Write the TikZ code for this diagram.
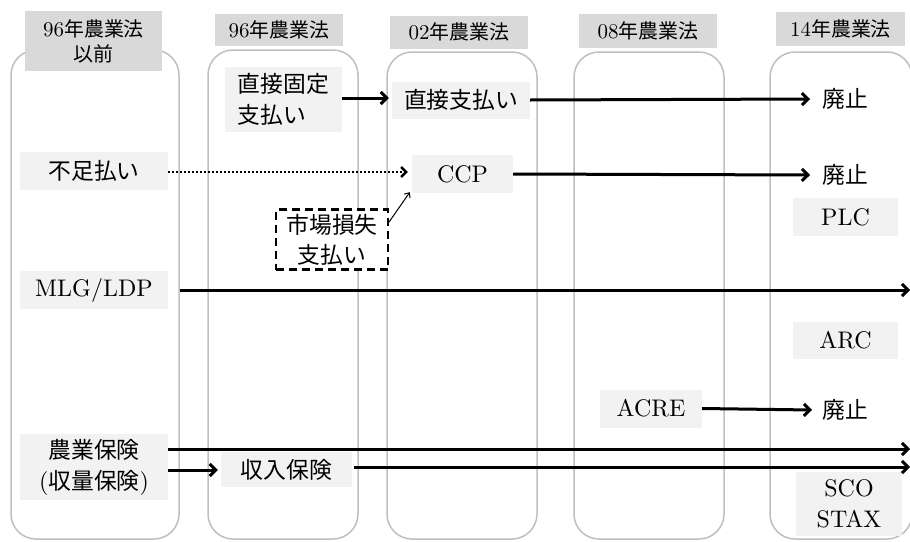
\documentclass[tikz,border=0pt]{standalone}
\usepackage{fontspec}
\setmainfont{lmroman10-regular}[Extension=.otf]
\newfontfamily\jp[Scale=0.95]{Noto Sans CJK JP}
\usetikzlibrary{arrows.meta,calc}
\definecolor{colline}{HTML}{BFBFBF}
\definecolor{headfill}{HTML}{D9D9D9}
\definecolor{itemfill}{HTML}{F2F2F2}
\tikzset{
  column/.style={draw=colline, line width=1.5pt, rounded corners=25pt},
  header/.style={fill=headfill, inner sep=0pt, align=center, font=\fontsize{21}{25}\selectfont},
  item/.style={fill=itemfill, inner sep=0pt, align=center, font=\fontsize{24}{31}\selectfont},
  plain/.style={inner sep=0pt, font=\fontsize{24}{31}\selectfont},
  thick arrow/.style={line width=3pt, -{Straight Barb[length=6pt,width=12pt,line width=3pt]}},
  dot arrow/.style={line width=2.8pt, dash pattern=on 2pt off 2pt, -{Straight Barb[length=5pt,width=10pt,line width=2.4pt]}},
  thin arrow/.style={line width=1pt, -{Straight Barb[length=4pt,width=7pt,line width=1pt]}},
  dashbox/.style={draw, fill=white, line width=2.2pt, dash pattern=on 8pt off 5pt, inner sep=0pt, align=center, font=\fontsize{24}{30}\selectfont},
}
\begin{document}
\begin{tikzpicture}[x=1pt,y=-1pt]
\useasboundingbox (0,0) rectangle (910,541);
\fill[white] (0,0) rectangle (910,541);
% columns
\draw[column] (11,50) rectangle (179,539);
\draw[column] (208,50) rectangle (358,539);
\draw[column] (387,52) rectangle (537,539);
\draw[column] (574,52) rectangle (724,539);
\draw[column] (770,52) rectangle (912,539);
% headers
\node[header, minimum width=137pt, minimum height=60pt] (h1) at (93.5,41) {96{\jp 年農業法}\\{\jp 以前}};
\node[header, minimum width=128pt, minimum height=32pt] (h2) at (279,30) {96{\jp 年農業法}};
\node[header, minimum width=138pt, minimum height=33pt] (h3) at (459,32) {02{\jp 年農業法}};
\node[header, minimum width=138pt, minimum height=34pt] (h4) at (648,31) {08{\jp 年農業法}};
\node[header, minimum width=129pt, minimum height=34pt] (h5) at (840.5,29) {14{\jp 年農業法}};
% items
\node[item, align=left, minimum width=117pt, minimum height=65pt] (dfp) at (283.5,99.5) {\jp 直接固定\\\jp 支払い};
\node[item, minimum width=138pt, minimum height=37pt] (dp) at (461,100) {\jp 直接支払い};
\node[item, minimum width=148pt, minimum height=38pt] (fus) at (94,171) {\jp 不足払い};
\node[item, minimum width=101pt, minimum height=38pt] (ccp) at (462.5,174) {CCP};
\node[item, minimum width=148pt, minimum height=38pt] (mlg) at (94,290) {MLG/LDP};
\node[item, minimum width=148pt, minimum height=66pt] (ins) at (94,467) {{\jp 農業保険}\\({\jp 収量保険})};
\node[item, minimum width=131pt, minimum height=35pt] (rev) at (286.5,469.5) {\jp 収入保険};
\node[item, minimum width=102pt, minimum height=38pt] (acre) at (651,408.5) {ACRE};
\node[item, minimum width=105pt, minimum height=38pt] (plc) at (845.5,217) {PLC};
\node[item, minimum width=105pt, minimum height=37pt] (arc) at (845.5,340) {ARC};
\node[item, minimum width=106pt, minimum height=64pt] (sco) at (849,504) {SCO\\STAX};
\node[dashbox, minimum width=112pt, minimum height=60pt] (mls) at (332,239.5) {\jp 市場損失\\\jp 支払い};
\node[plain] (ab1) at (845,99) {\jp 廃止};
\node[plain] (ab2) at (845,175) {\jp 廃止};
\node[plain] (ab3) at (845,410) {\jp 廃止};
% free ends
\coordinate (e1) at (910,290);
\coordinate (e2) at (910,449);
\coordinate (e3) at (910,467);
% connectors
\draw[thick arrow] (dfp.east |- 0,98) -- ([xshift=-3pt]dp.west |- 0,98);
\draw[thick arrow] (dp.east) -- ([xshift=-12pt]ab1.west);
\draw[thick arrow] (ccp.east) -- ([xshift=-12pt]ab2.west);
\draw[dot arrow] (fus.east |- 0,172) -- ([xshift=-4pt]ccp.west |- 0,172);
\draw[thin arrow] (mls.east |- 0,222) -- ([xshift=-2pt,yshift=1pt]ccp.south west);
\draw[thick arrow] ([xshift=12pt]mlg.east) -- (e1);
\draw[thick arrow] (ins.east |- e2) -- (e2);
\draw[thick arrow] (ins.east |- 0,470) -- ([xshift=-3pt]rev.west |- 0,470);
\draw[thick arrow] ([xshift=2pt]rev.east |- e3) -- (e3);
\draw[thick arrow] (acre.east) -- ([xshift=-10pt]ab3.west);
\end{tikzpicture}
\end{document}
